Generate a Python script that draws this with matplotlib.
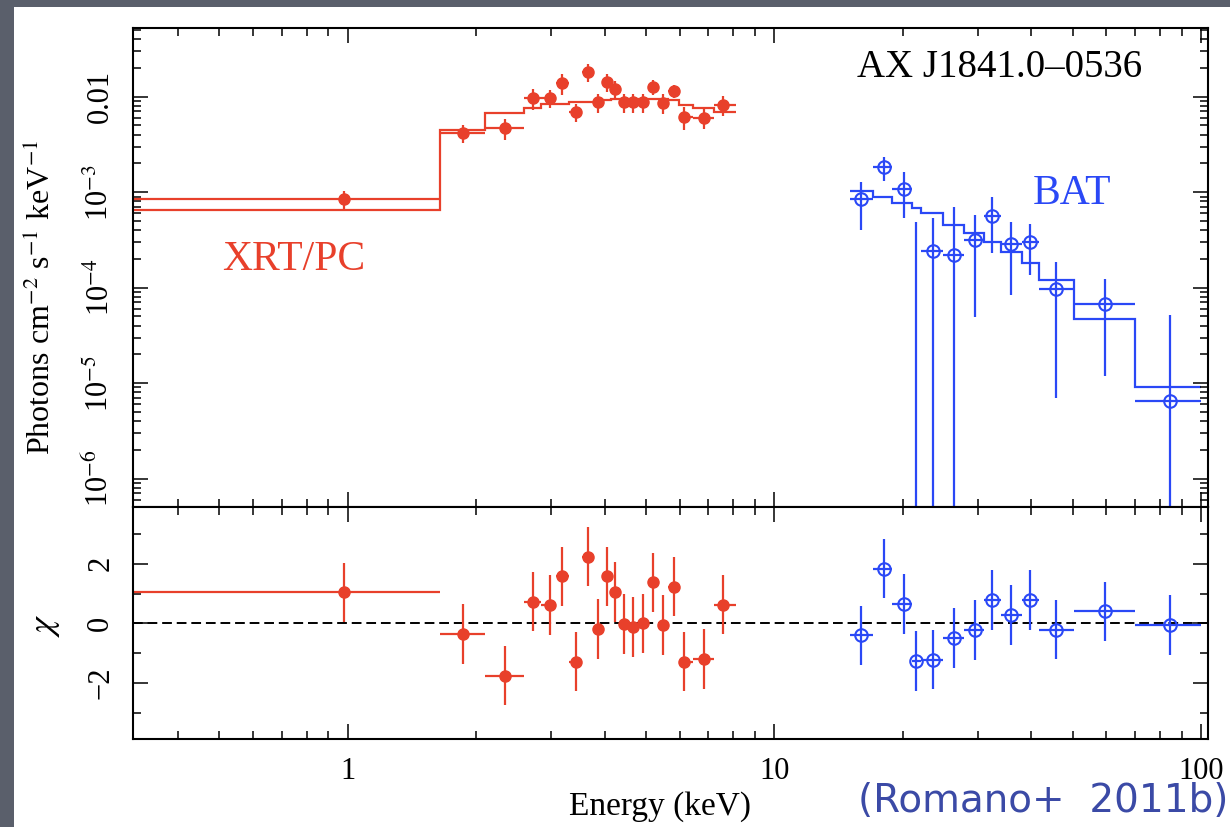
import numpy as np
import matplotlib.pyplot as plt
from matplotlib.patches import Rectangle
from matplotlib.ticker import MultipleLocator, NullFormatter

# XRT/PC spectrum (keV, photons cm^-2 s^-1 keV^-1)
xrt_energy = [0.98, 1.866, 2.33, 2.72, 2.97, 3.18, 3.43, 3.66, 3.85, 4.04,
              4.22, 4.45, 4.67, 4.93, 5.20, 5.49, 5.80, 6.15, 6.82, 7.59]
xrt_edges = [0.30, 1.648, 2.10, 2.59, 2.84, 3.07, 3.30, 3.54, 3.75, 3.94, 4.13,
             4.33, 4.56, 4.80, 5.06, 5.34, 5.64, 5.97, 6.45, 7.20, 8.14]
xrt_flux = [8.45e-4, 4.15e-3, 4.69e-3, 9.66e-3, 9.66e-3, 1.39e-2, 6.9e-3, 1.81e-2,
            8.77e-3, 1.42e-2, 1.20e-2, 8.77e-3, 8.77e-3, 8.77e-3, 1.26e-2, 8.57e-3,
            1.146e-2, 6.1e-3, 5.97e-3, 8.17e-3]
xrt_flux_err = [1.9e-4, 0.9e-3, 1.16e-3, 2.4e-3, 2.1e-3, 3.4e-3, 1.5e-3, 4.0e-3,
                2.0e-3, 3.1e-3, 2.5e-3, 2.0e-3, 2.0e-3, 2.0e-3, 2.3e-3, 2.0e-3,
                1.8e-3, 1.6e-3, 1.4e-3, 1.9e-3]
xrt_model = [6.47e-4, 4.47e-3, 6.73e-3, 7.59e-3, 8.35e-3, 8.35e-3, 8.85e-3, 8.85e-3,
             8.85e-3, 9.3e-3, 9.37e-3, 9.37e-3, 9.37e-3, 9.37e-3, 9.37e-3, 9.37e-3,
             9.2e-3, 8.17e-3, 7.66e-3, 6.95e-3]
xrt_chi = [1.04, -0.36, -1.76, 0.73, 0.62, 1.58, -1.29, 2.24, -0.19, 1.58,
           1.06, -0.02, -0.13, 0.0, 1.38, -0.06, 1.23, -1.29, -1.20, 0.63]

# BAT spectrum
bat_energy = [15.95, 18.04, 20.07, 21.47, 23.5, 26.4, 29.5, 32.4, 35.9, 39.8,
              45.7, 59.7, 84.8]
bat_edges = [15.0, 17.0, 18.9, 21.0, 22.0, 24.9, 27.8, 31.0, 33.9, 38.1, 41.7,
             50.3, 70.0, 100.0]
bat_flux = [8.38e-4, 1.82e-3, 1.09e-3, -2.0e-4, 2.41e-4, 2.22e-4, 3.14e-4,
            5.6e-4, 2.83e-4, 3.01e-4, 9.6e-5, 6.8e-5, 6.49e-6]
bat_flux_err = [4.4e-4, 5.0e-4, 5.5e-4, 6.9e-4, 3.0e-4, 4.8e-4, 2.65e-4,
                3.3e-4, 2.0e-4, 1.65e-4, 8.9e-5, 5.6e-5, 4.5e-5]
bat_model = [1.03e-3, 8.93e-4, 7.62e-4, 6.75e-4, 5.98e-4, 4.51e-4, 3.69e-4,
             3.01e-4, 2.37e-4, 1.79e-4, 1.20e-4, 4.74e-5, 9.1e-6]
bat_chi = [-0.41, 1.84, 0.65, -1.27, -1.22, -0.50, -0.22, 0.78, 0.28, 0.78,
           -0.21, 0.40, -0.06]

flux_ticks = [1e-6, 1e-5, 1e-4, 1e-3, 1e-2]
flux_tick_labels = ['10$^{-6}$', '10$^{-5}$', '10$^{-4}$', '10$^{-3}$', '0.01']
chi_ticks = [-2, 0, 2]
chi_tick_labels = ['\u22122', '0', '2']
energy_ticks = [1, 10, 100]
energy_tick_labels = ['1', '10', '100']

red = '#e8402b'
blue = '#2a48f6'

plt.rcParams['font.family'] = ['Liberation Serif', 'DejaVu Serif']
plt.rcParams['mathtext.fontset'] = 'stix'

W, H = 1230, 827
fig = plt.figure(figsize=(W / 100, H / 100), dpi=100)
fig.patch.set_facecolor('#5a5f6b')
# white slide panel
fig.add_artist(Rectangle((14 / W, 0), 1, 1 - 7 / H, transform=fig.transFigure,
                         facecolor='white', edgecolor='none', zorder=-5))

left, right = 133.3 / W, 1208.3 / W
y_top, y_mid, y_bot = 1 - 28.3 / H, 1 - 507.3 / H, 1 - 739.3 / H
ax1 = fig.add_axes([left, y_mid, right - left, y_top - y_mid])
ax2 = fig.add_axes([left, y_bot, right - left, y_mid - y_bot], sharex=ax1)


def xerr_from_edges(energy, edges):
    e = np.array(energy)
    ed = np.array(edges)
    return [e - ed[:-1], ed[1:] - e]


xrt_xerr = xerr_from_edges(xrt_energy, xrt_edges)
bat_xerr = xerr_from_edges(bat_energy, bat_edges)

# top panel: data + model
ax1.set_xscale('log')
ax1.set_yscale('log')
ax1.stairs(xrt_model, xrt_edges, baseline=None, color=red, lw=1.6)
ax1.stairs(bat_model, bat_edges, baseline=None, color=blue, lw=1.6)
ax1.errorbar(xrt_energy, xrt_flux, yerr=xrt_flux_err, xerr=xrt_xerr, fmt='o',
             color=red, ms=8, elinewidth=1.6, capsize=0)
ax1.errorbar(bat_energy, bat_flux, yerr=bat_flux_err, xerr=bat_xerr, fmt='o',
             color=blue, mfc='none', mec=blue, ms=9, mew=1.5,
             elinewidth=1.6, capsize=0)
ax1.set_xlim(0.314, 104)
ax1.set_ylim(5e-7, 0.052)
ax1.set_yticks(flux_ticks, flux_tick_labels)
ax1.yaxis.set_minor_formatter(NullFormatter())
ax1.tick_params(labelbottom=False)

# bottom panel: residuals
ax2.axhline(0, color='black', lw=1.4, ls=(0, (5, 2.5)))
ax2.errorbar(xrt_energy, xrt_chi, yerr=1.0, xerr=xrt_xerr, fmt='o',
             color=red, ms=8, elinewidth=1.6, capsize=0)
ax2.errorbar(bat_energy, bat_chi, yerr=1.0, xerr=bat_xerr, fmt='o',
             color=blue, mfc='none', mec=blue, ms=9, mew=1.5,
             elinewidth=1.6, capsize=0)
ax2.set_ylim(-3.9, 3.9)
ax2.set_yticks(chi_ticks, chi_tick_labels)
ax2.yaxis.set_minor_locator(MultipleLocator(1))
ax2.set_xticks(energy_ticks, energy_tick_labels)
ax2.xaxis.set_minor_formatter(NullFormatter())
ax2.set_xlim(0.314, 104)

for ax in (ax1, ax2):
    ax.tick_params(which='both', direction='in', top=True, right=True,
                   labelsize=22, width=1.1, pad=13)
    ax.tick_params(which='major', length=11)
    ax.tick_params(which='minor', length=6)
    for sp in ax.spines.values():
        sp.set_linewidth(1.5)
    for lab in ax.get_yticklabels():
        lab.set_rotation(90)
        lab.set_va('center')

# labels and annotations
fig.text(41 / W, 1 - 297 / H, 'Photons cm$^{-2}$ s$^{-1}$ keV$^{-1}$',
         rotation=90, ha='center', va='center', fontsize=23)
fig.text(46 / W, 1 - 625 / H, r'$\chi$', rotation=90, ha='center',
         va='center', fontsize=26)
fig.text(660 / W, 1 - 807 / H, 'Energy (keV)', ha='center', va='center',
         fontsize=24)
fig.text(1000 / W, 1 - 77 / H, 'AX J1841.0\u20130536', ha='center',
         va='baseline', fontsize=28)
fig.text(294 / W, 1 - 270 / H, 'XRT/PC', ha='center', va='baseline',
         fontsize=30, color=red)
fig.text(1072 / W, 1 - 204 / H, 'BAT', ha='center', va='baseline',
         fontsize=30, color=blue)
fig.text(1228 / W, 1 - 812 / H, '(Romano+  2011b)', ha='right',
         va='baseline', fontsize=28, color='#3b4aa6', family='DejaVu Sans')

fig.savefig('out.png', dpi=100, facecolor=fig.get_facecolor())
